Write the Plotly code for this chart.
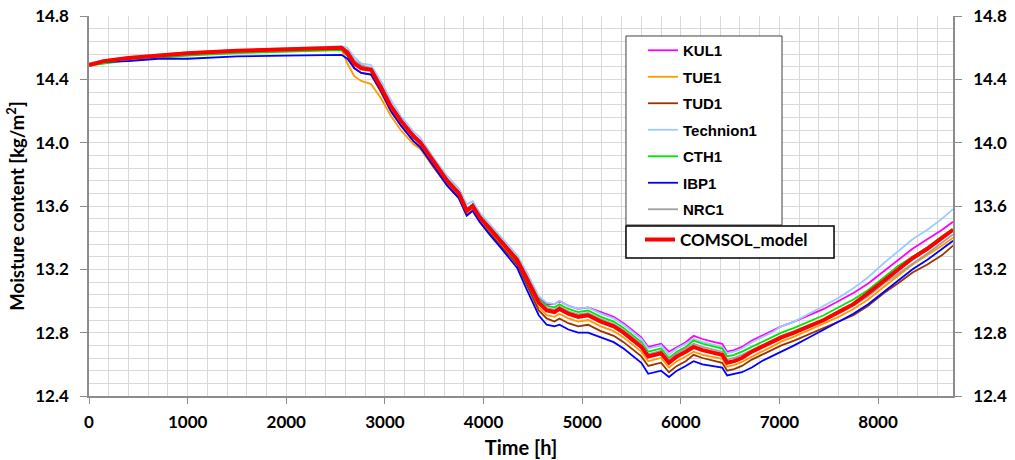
import plotly.graph_objects as go

T = [0, 150, 400, 700, 1000, 1500, 2000, 2400, 2560, 2620, 2690, 2760, 2860, 2960, 3060, 3160, 3290, 3360, 3500, 3630,
     3750, 3830, 3890, 3960, 4060, 4170, 4250, 4340, 4440, 4560, 4640, 4720, 4770, 4860, 4960, 5060, 5190, 5320, 5420, 5500,
     5600, 5670, 5740, 5800, 5880, 5960, 6050, 6130, 6220, 6340, 6420, 6470, 6540, 6620, 6720, 6820, 6920, 7020, 7150, 7300,
     7450, 7600, 7750, 7900, 8060, 8200, 8350, 8500, 8650, 8760]

KUL1 = [14.49, 14.515, 14.535, 14.55, 14.565, 14.58, 14.59, 14.60, 14.60, 14.575, 14.51, 14.48, 14.47, 14.36, 14.24, 14.15, 14.05, 14.01, 13.88, 13.77,
        13.69, 13.58, 13.61, 13.54, 13.47, 13.39, 13.33, 13.27, 13.16, 13.02, 12.98, 12.98, 13.00, 12.97, 12.95, 12.96, 12.93, 12.90, 12.86, 12.82,
        12.77, 12.71, 12.72, 12.73, 12.68, 12.71, 12.74, 12.78, 12.76, 12.74, 12.73, 12.68, 12.69, 12.71, 12.75, 12.78, 12.81, 12.84, 12.87, 12.91,
        12.95, 13.00, 13.05, 13.11, 13.19, 13.26, 13.33, 13.39, 13.45, 13.50]

TUE1 = [14.50, 14.52, 14.54, 14.555, 14.57, 14.585, 14.595, 14.60, 14.59, 14.50, 14.42, 14.39, 14.37, 14.28, 14.17, 14.08, 13.99, 13.96, 13.84, 13.74,
        13.66, 13.55, 13.58, 13.51, 13.44, 13.36, 13.30, 13.24, 13.11, 12.96, 12.91, 12.90, 12.92, 12.89, 12.87, 12.88, 12.84, 12.81, 12.77, 12.73,
        12.68, 12.62, 12.63, 12.64, 12.58, 12.62, 12.65, 12.68, 12.66, 12.645, 12.635, 12.585, 12.595, 12.615, 12.65, 12.68, 12.71, 12.745, 12.775, 12.815,
        12.855, 12.90, 12.95, 13.01, 13.09, 13.16, 13.23, 13.29, 13.35, 13.40]

TUD1 = [14.49, 14.51, 14.53, 14.545, 14.56, 14.575, 14.585, 14.595, 14.59, 14.55, 14.47, 14.44, 14.43, 14.32, 14.20, 14.11, 14.01, 13.97, 13.84, 13.73,
        13.65, 13.54, 13.57, 13.50, 13.43, 13.35, 13.29, 13.23, 13.10, 12.94, 12.89, 12.87, 12.89, 12.86, 12.84, 12.85, 12.81, 12.78, 12.74, 12.70,
        12.65, 12.59, 12.60, 12.61, 12.55, 12.59, 12.62, 12.66, 12.64, 12.62, 12.61, 12.56, 12.57, 12.59, 12.63, 12.66, 12.69, 12.72, 12.75, 12.79,
        12.83, 12.87, 12.91, 12.97, 13.05, 13.11, 13.18, 13.23, 13.29, 13.35]

Technion1 = [14.50, 14.52, 14.54, 14.555, 14.57, 14.585, 14.595, 14.605, 14.61, 14.60, 14.54, 14.50, 14.49, 14.39, 14.27, 14.17, 14.07, 14.03, 13.90, 13.79,
             13.71, 13.61, 13.63, 13.56, 13.49, 13.41, 13.35, 13.29, 13.18, 13.03, 12.99, 12.98, 13.00, 12.97, 12.95, 12.96, 12.92, 12.89, 12.85, 12.81,
             12.76, 12.70, 12.71, 12.72, 12.66, 12.70, 12.73, 12.76, 12.74, 12.72, 12.71, 12.67, 12.68, 12.70, 12.74, 12.77, 12.80, 12.84, 12.87, 12.92,
             12.97, 13.02, 13.08, 13.15, 13.24, 13.31, 13.39, 13.45, 13.52, 13.58]

CTH1 = [14.485, 14.50, 14.52, 14.535, 14.55, 14.565, 14.575, 14.585, 14.585, 14.57, 14.505, 14.475, 14.465, 14.355, 14.235, 14.145, 14.045, 14.005, 13.875, 13.77,
        13.69, 13.58, 13.61, 13.54, 13.47, 13.39, 13.33, 13.27, 13.15, 13.01, 12.97, 12.96, 12.98, 12.95, 12.93, 12.94, 12.90, 12.87, 12.83, 12.79,
        12.74, 12.68, 12.69, 12.70, 12.64, 12.68, 12.71, 12.75, 12.73, 12.71, 12.70, 12.65, 12.66, 12.68, 12.71, 12.74, 12.77, 12.80, 12.83, 12.87,
        12.91, 12.96, 13.01, 13.07, 13.15, 13.22, 13.28, 13.34, 13.41, 13.455]

IBP1 = [14.49, 14.51, 14.515, 14.53, 14.53, 14.545, 14.55, 14.555, 14.555, 14.53, 14.47, 14.44, 14.43, 14.33, 14.20, 14.11, 14.01, 13.97, 13.85, 13.73,
        13.65, 13.54, 13.57, 13.50, 13.42, 13.34, 13.28, 13.21, 13.07, 12.91, 12.85, 12.84, 12.85, 12.82, 12.80, 12.80, 12.77, 12.74, 12.70, 12.66,
        12.61, 12.54, 12.55, 12.56, 12.52, 12.56, 12.59, 12.62, 12.60, 12.59, 12.58, 12.53, 12.54, 12.55, 12.58, 12.62, 12.65, 12.68, 12.72, 12.77,
        12.82, 12.87, 12.92, 12.98, 13.06, 13.13, 13.20, 13.26, 13.33, 13.38]

NRC1 = [14.49, 14.51, 14.53, 14.545, 14.56, 14.575, 14.585, 14.595, 14.595, 14.58, 14.52, 14.49, 14.47, 14.36, 14.24, 14.14, 14.04, 14.00, 13.87, 13.76,
        13.68, 13.57, 13.60, 13.53, 13.46, 13.38, 13.32, 13.26, 13.14, 13.00, 12.955, 12.945, 12.965, 12.935, 12.915, 12.925, 12.885, 12.855, 12.815, 12.775,
        12.73, 12.665, 12.675, 12.685, 12.63, 12.67, 12.70, 12.73, 12.71, 12.69, 12.68, 12.63, 12.64, 12.66, 12.69, 12.72, 12.75, 12.78, 12.81, 12.85,
        12.88, 12.92, 12.97, 13.03, 13.11, 13.17, 13.24, 13.30, 13.37, 13.42]

COMSOL_model = [14.49, 14.515, 14.535, 14.55, 14.565, 14.58, 14.59, 14.60, 14.60, 14.57, 14.50, 14.47, 14.46, 14.35, 14.23, 14.14, 14.04, 14.00, 13.87, 13.76,
                13.68, 13.57, 13.60, 13.53, 13.46, 13.38, 13.32, 13.26, 13.14, 12.99, 12.94, 12.93, 12.95, 12.92, 12.90, 12.91, 12.87, 12.84, 12.80, 12.76,
                12.71, 12.65, 12.66, 12.67, 12.61, 12.65, 12.68, 12.71, 12.69, 12.67, 12.66, 12.61, 12.62, 12.64, 12.68, 12.71, 12.74, 12.77, 12.80, 12.84,
                12.88, 12.93, 12.98, 13.05, 13.13, 13.20, 13.27, 13.33, 13.40, 13.45]

series = [
    ("KUL1", KUL1, "#ff00ff"),
    ("TUE1", TUE1, "#ff9900"),
    ("TUD1", TUD1, "#993300"),
    ("Technion1", Technion1, "#99ccff"),
    ("CTH1", CTH1, "#00e600"),
    ("IBP1", IBP1, "#0000ff"),
    ("NRC1", NRC1, "#a0a0a0"),
]

Y_RANGE = [12.4, 14.8]
X_RANGE = [0, 8760]

fig = go.Figure()
for name, vals, col in series:
    fig.add_trace(go.Scatter(x=T, y=vals, mode="lines", name=name,
                             line=dict(color=col, width=1.8),
                             legend="legend", legendgroup=name))

fig.add_trace(go.Scatter(x=T, y=COMSOL_model, mode="lines", name="COMSOL_model",
                         line=dict(color="#ff0000", width=4), legend="legend2"))

# invisible trace to carry the right-hand axis
fig.add_trace(go.Scatter(x=T, y=COMSOL_model, mode="lines", yaxis="y2",
                         line=dict(color="rgba(0,0,0,0)", width=0),
                         showlegend=False, hoverinfo="skip"))

tickfont = dict(family="Lato", size=17, color="black", weight="bold")
grid_col = "#d9d9d9"
axis_col = "#8c8c8c"

# legend frames (paper coordinates)
fig.add_shape(type="rect", xref="paper", yref="paper", x0=0.6215, x1=0.8021, y0=0.450, y1=0.9474,
              line=dict(color="#404040", width=1), fillcolor="white", layer="above")
fig.add_shape(type="rect", xref="paper", yref="paper", x0=0.6215, x1=0.8623, y0=0.3632, y1=0.4474,
              line=dict(color="#000000", width=1.5), fillcolor="white", layer="above")

fig.update_layout(
    width=1015, height=460,
    margin=dict(l=89, r=62, t=16, b=64, autoexpand=False),
    paper_bgcolor="white", plot_bgcolor="white",
    xaxis=dict(range=X_RANGE, dtick=1000, tick0=0, showgrid=True, gridcolor=grid_col, gridwidth=1,
               minor=dict(dtick=200, showgrid=True, gridcolor=grid_col, gridwidth=1),
               showline=True, linecolor=axis_col, linewidth=1.5,
               ticks="outside", ticklen=6, tickcolor=axis_col, tickfont=tickfont,
               ticklabelstandoff=4, zeroline=False, automargin=False,
               title=dict(text="Time [h]", font=dict(family="Lato", size=20, color="black", weight="bold"), standoff=10)),
    yaxis=dict(range=Y_RANGE, dtick=0.4, tick0=12.4, tickformat=".1f", showgrid=True, gridcolor=grid_col, gridwidth=1,
               minor=dict(dtick=0.08, showgrid=True, gridcolor=grid_col, gridwidth=1),
               showline=True, linecolor=axis_col, linewidth=1.5,
               ticks="outside", ticklen=7, tickcolor=axis_col, tickfont=tickfont,
               ticklabelstandoff=8, zeroline=False, automargin=False,
               title=dict(text="Moisture content [kg/m<sup>2</sup>]", font=dict(family="Lato", size=18.5, color="black", weight="bold"), standoff=6)),
    yaxis2=dict(range=Y_RANGE, dtick=0.4, tick0=12.4, tickformat=".1f", overlaying="y", side="right",
                showgrid=False, showline=True, linecolor=axis_col, linewidth=1.5,
                ticks="outside", ticklen=7, tickcolor=axis_col, tickfont=tickfont,
                ticklabelstandoff=8, zeroline=False, automargin=False),
    legend=dict(x=(643 - 89) / 864, y=0.9526, xanchor="left", yanchor="top",
                bgcolor="rgba(0,0,0,0)", borderwidth=0,
                font=dict(family="Liberation Sans", size=15, color="black", weight="bold"),
                tracegroupgap=4, itemwidth=30),
    legend2=dict(x=(640 - 89) / 864, y=0.458, xanchor="left", yanchor="top",
                 bgcolor="rgba(0,0,0,0)", borderwidth=0,
                 font=dict(family="Lato", size=17, color="black", weight="bold"),
                 itemwidth=30),
    showlegend=True,
)

fig.write_html("out.html")
